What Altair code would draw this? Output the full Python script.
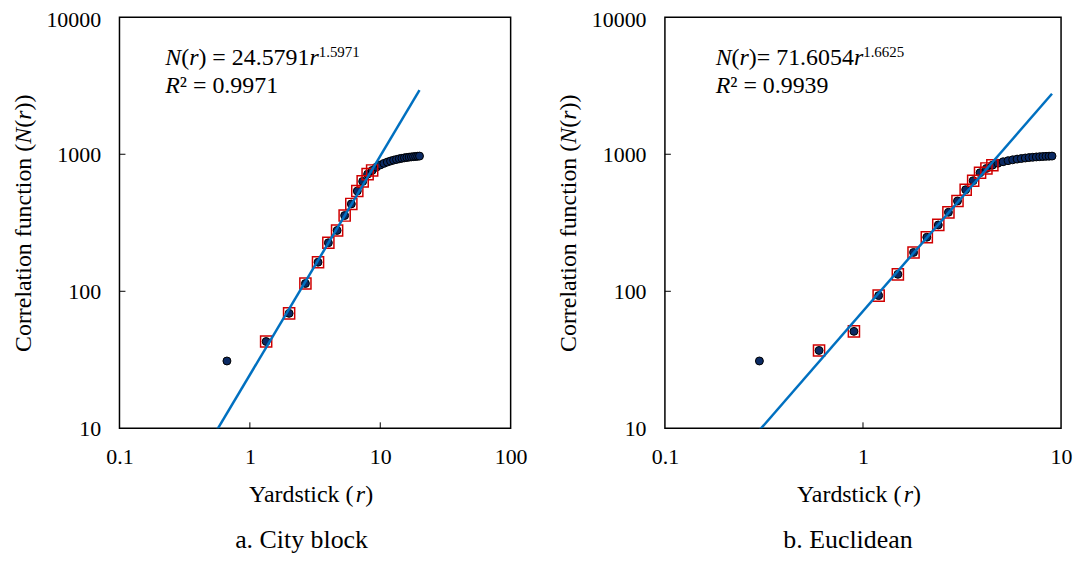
import altair as alt
import pandas as pd

# ---------------- data ----------------
# a. City block
cb_r = [0.667, 1.333, 2.0, 2.667, 3.333, 4.0, 4.667, 5.333, 6.0, 6.667,
        7.333, 8.0, 8.667, 9.333, 10.0, 10.667, 11.333, 12.0, 12.667, 13.333,
        14.0, 14.667, 15.333, 16.0, 16.667, 17.333, 18.0, 18.667, 19.333, 20.0]
cb_N = [31, 43, 69, 114, 163, 226, 278, 357, 434, 539,
        634, 716, 762, 805, 835, 858, 877, 893, 906, 917,
        927, 935, 942, 948, 953, 957, 961, 964, 967, 970]
cb_fit = [0, 1, 1, 1, 1, 1, 1, 1, 1, 1,
          1, 1, 1, 0, 0, 0, 0, 0, 0, 0,
          0, 0, 0, 0, 0, 0, 0, 0, 0, 0]
cb_a, cb_b = 24.5791, 1.5971
cb_line_r = [0.4, 20.0]

# b. Euclidean
eu_r = [0.3, 0.6, 0.9, 1.2, 1.5, 1.8, 2.1, 2.4, 2.7, 3.0,
        3.3, 3.6, 3.9, 4.2, 4.5, 4.8, 5.1, 5.4, 5.7, 6.0,
        6.3, 6.6, 6.9, 7.2, 7.5, 7.8, 8.1, 8.4, 8.7, 9.0]
eu_N = [31, 37, 51, 93, 133, 192, 248, 305, 377, 456,
        551, 641, 733, 788, 832, 860, 882, 898, 911, 922,
        931, 939, 946, 951, 956, 960, 963, 966, 968, 970]
eu_fit = [0, 1, 1, 1, 1, 1, 1, 1, 1, 1,
          1, 1, 1, 1, 1, 0, 0, 0, 0, 0,
          0, 0, 0, 0, 0, 0, 0, 0, 0, 0]
eu_a, eu_b = 71.6054, 1.6625
eu_line_r = [0.2, 9.0]

y_ticks = [10, 100, 1000, 10000]
cb_x_ticks = [0.1, 1, 10, 100]
eu_x_ticks = [0.1, 1, 10]

# ---------------- text helpers ----------------
FONT = "Liberation Serif"
REG = {' ': 250, '(': 333, ')': 333, '=': 564, '.': 250, '²': 300,
       'N': 722, 'R': 667, 'r': 333, 'Y': 722, 'a': 444, 'd': 500, 's': 389,
       't': 278, 'i': 278, 'c': 444, 'k': 500, 'C': 667, 'o': 500, 'e': 444,
       'l': 278, 'n': 500, 'f': 333, 'u': 500, 'b': 500, 'y': 500, 'E': 611,
       'h': 500}
ITA = {'N': 667, 'r': 389, 'R': 611}


def width(s, italic, size):
    tab = ITA if italic else REG
    return sum(tab.get(ch, REG.get(ch, 500)) for ch in s) / 1000 * size


def piece(text, x, y, size, italic=False, angle=0):
    kw = dict(align="left", baseline="alphabetic", font=FONT, fontSize=size,
              color="black", fontStyle="italic" if italic else "normal")
    if angle:
        kw["angle"] = angle
    return alt.Chart(pd.DataFrame({"t": [text]})).mark_text(**kw).encode(
        text="t:N", x=alt.value(x), y=alt.value(y))


def runs(items, x0, y0, anchor="left", angle=0):
    """items: (text, italic, size, dy)"""
    total = sum(width(t, it, s) for t, it, s, _ in items)
    out = []
    if angle == 0:
        x = x0 - total / 2 if anchor == "middle" else x0
        for t, it, s, dy in items:
            out.append(piece(t, x, y0 + dy, s, it))
            x += width(t, it, s)
    else:  # rotated 270, reading upward, centred at y0
        y = y0 + total / 2
        for t, it, s, dx in items:
            out.append(piece(t, x0 + dx, y, s, it, angle=270))
            y -= width(t, it, s)
    return out


# ---------------- panel builder ----------------
H = 413
EQ, SUP, AX, CAP = 24, 15, 24, 26


def panel(r, N, fit, a, b, line_r, xticks, W, eq1, eq2, eqx, caption, capx, ytx):
    df = pd.DataFrame({"r": r, "N": N, "fit": fit})
    xs = alt.Scale(type="log", domain=[xticks[0], xticks[-1]])
    ys = alt.Scale(type="log", domain=[10, 10000])
    xax = alt.Axis(values=xticks, format="~g", title=None, labelPadding=18,
                   labelFlush=False, labelOverlap=False, domain=False,
                   ticks=False, grid=False)
    yax = alt.Axis(values=y_ticks, format="~g", title=None, labelPadding=19,
                   labelFlush=False, labelOverlap=False, domain=False,
                   ticks=False, grid=False,
                   labelOffset={"condition": {"test": "datum.value >= 10000",
                                              "value": 2}, "value": 0})
    X = alt.X("r:Q", scale=xs, axis=xax)
    Y = alt.Y("N:Q", scale=ys, axis=yax)
    dots = alt.Chart(df).mark_point(shape="circle", filled=True, fill="#0B2A63",
                                    stroke="black", strokeWidth=1, size=64,
                                    opacity=1).encode(x=X, y=Y)
    squares = alt.Chart(df).transform_filter("datum.fit == 1").mark_point(
        shape="square", filled=False, stroke="#D00000", strokeWidth=1.5,
        size=125, opacity=1).encode(x=X, y=Y)
    line = alt.Chart(pd.DataFrame({"r": line_r})).transform_calculate(
        N=f"{a} * pow(datum.r, {b})").mark_line(
        clip=True, color="#0070C0", strokeWidth=2.5).encode(x=X, y=Y)
    xt = alt.Chart(pd.DataFrame({"r": xticks[1:-1]})).mark_rule(
        color="black", strokeWidth=1).encode(
        x=X, y=alt.value(H), y2=alt.value(H - 6))
    yt = alt.Chart(pd.DataFrame({"N": y_ticks[1:-1]})).mark_rule(
        color="black", strokeWidth=1).encode(
        y=Y, x=alt.value(0), x2=alt.value(6))

    texts = []
    texts += runs(eq1, eqx, 48)
    texts += runs(eq2, eqx, 76.5)
    texts += runs([("Yardstick (", False, AX, 0), ("r", True, AX, 0),
                   (")", False, AX, 0)], W / 2 - 4, 487, anchor="middle")
    texts += runs([("Correlation function (", False, AX, 0), ("N", True, AX, 0),
                   ("(", False, AX, 0), ("r", True, AX, 0), ("))", False, AX, 0)],
                  ytx, 207, angle=270)
    texts += runs([(caption, False, CAP, 0)], capx, 533, anchor="middle")
    return alt.layer(dots, squares, line, xt, yt, *texts).properties(width=W, height=H)


left = panel(cb_r, cb_N, cb_fit, cb_a, cb_b, cb_line_r, cb_x_ticks, 393,
             [("N", True, EQ, 0), ("(", False, EQ, 0), ("r", True, EQ, 0),
              (") = 24.5791", False, EQ, 0), ("r", True, EQ, 0),
              ("1.5971", False, SUP, -8)],
             [("R", True, EQ, 0), ("² = 0.9971", False, EQ, 0)],
             46, "a. City block", 183, -89)
right = panel(eu_r, eu_N, eu_fit, eu_a, eu_b, eu_line_r, eu_x_ticks, 398,
              [("N", True, EQ, 0), ("(", False, EQ, 0), ("r", True, EQ, 0),
               (")= 71.6054", False, EQ, 0), ("r", True, EQ, 0),
               ("1.6625", False, SUP, -8)],
              [("R", True, EQ, 0), ("² = 0.9939", False, EQ, 0)],
              51, "b. Euclidean", 184, -89)

chart = alt.hconcat(left, right, spacing=155, bounds="flush").properties(
    padding={"left": 3, "top": -2, "right": 0, "bottom": 0}
).configure_view(stroke="black", strokeWidth=1.5).configure_axis(
    labelFont=FONT, labelFontSize=22, labelColor="black")

chart.save("out.html", embed_options={"renderer": "svg", "actions": False})
